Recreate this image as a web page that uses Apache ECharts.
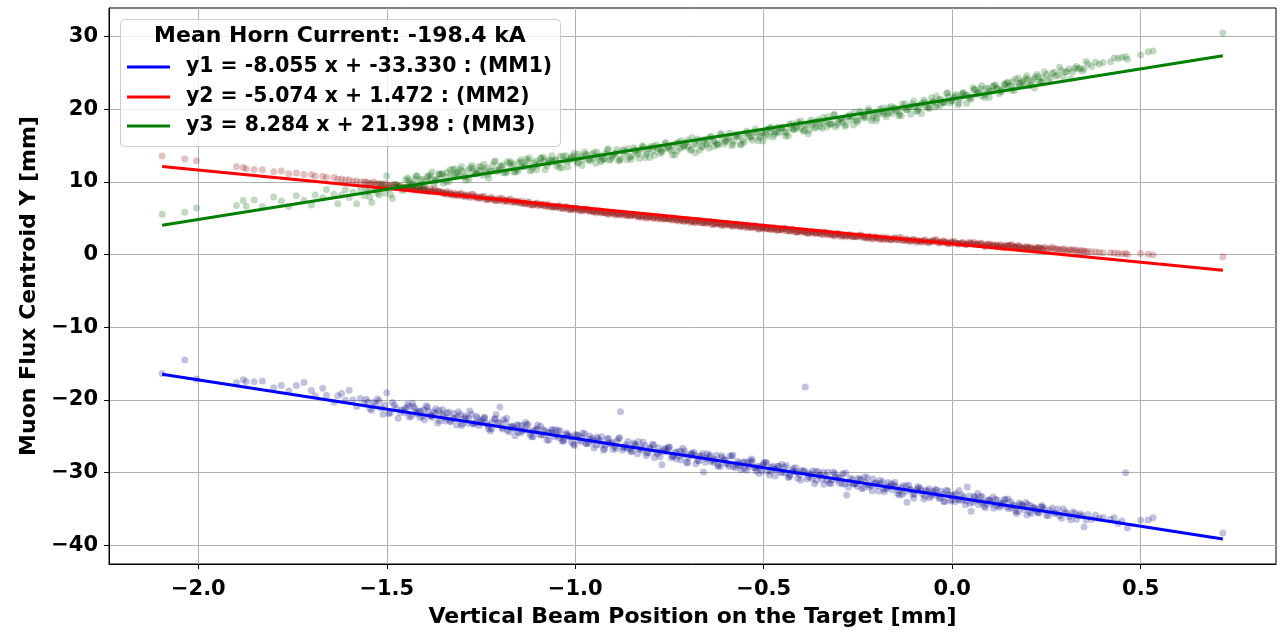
<!DOCTYPE html>
<html>
<head>
<meta charset="utf-8">
<script src="https://cdn.jsdelivr.net/npm/echarts@6/dist/echarts.min.js"></script>
<style>
  html, body { margin: 0; padding: 0; background: #ffffff; }
  #chart { width: 1288px; height: 633px; }
</style>
</head>
<body>
<div id="chart"></div>
<script>
// Vertical beam position on target (mm), shared by all three monitors
const beamX = [
  -2.096, -2.036, -2.005, -1.899, -1.881, -1.873, -1.852, -1.83, -1.80, -1.78,
  -1.76, -1.74, -1.72, -1.70, -1.69, -1.67, -1.66, -1.64, -1.63, -1.62,
  -1.61, -1.60, -1.59, -1.58, -1.57, -1.56, -1.55, -1.54, -1.53, -1.52,
  -1.51, -1.50, -1.49, -1.48, -1.47, -1.46, -1.45, -1.44, -1.43, -1.42,
  -1.41, -1.40, -1.39, -1.38, -1.37, -1.36, -1.35, -1.34, -1.33, -1.32,
  -1.31, -1.30, -1.29, -1.28, -1.27, -1.26, -1.25, -1.24, -1.23, -1.22,
  -1.21, -1.20, -1.19, -1.18, -1.17, -1.16, -1.15, -1.14, -1.13, -1.12,
  -1.11, -1.10, -1.09, -1.08, -1.07, -1.06, -1.05, -1.04, -1.03, -1.02,
  -1.01, -1.00, -0.99, -0.98, -0.97, -0.96, -0.95, -0.94, -0.93, -0.92,
  -0.91, -0.90, -0.89, -0.88, -0.87, -0.86, -0.85, -0.84, -0.83, -0.82,
  -0.81, -0.80, -0.79, -0.78, -0.77, -0.76, -0.75, -0.74, -0.73, -0.72,
  -0.71, -0.70, -0.69, -0.68, -0.67, -0.66, -0.65, -0.64, -0.63, -0.62,
  -0.61, -0.60, -0.59, -0.58, -0.57, -0.56, -0.55, -0.54, -0.53, -0.52,
  -0.51, -0.50, -0.49, -0.48, -0.47, -0.46, -0.45, -0.44, -0.43, -0.42,
  -0.41, -0.40, -0.39, -0.38, -0.37, -0.36, -0.35, -0.34, -0.33, -0.32,
  -0.31, -0.30, -0.29, -0.28, -0.27, -0.26, -0.25, -0.24, -0.23, -0.22,
  -0.21, -0.20, -0.19, -0.18, -0.17, -0.16, -0.15, -0.14, -0.13, -0.12,
  -0.11, -0.10, -0.09, -0.08, -0.07, -0.06, -0.05, -0.04, -0.03, -0.02,
  -0.01, 0.00, 0.01, 0.02, 0.03, 0.04, 0.05, 0.06, 0.07, 0.08,
  0.09, 0.10, 0.11, 0.12, 0.13, 0.14, 0.15, 0.16, 0.17, 0.18,
  0.19, 0.20, 0.21, 0.22, 0.23, 0.24, 0.25, 0.26, 0.27, 0.28,
  0.29, 0.30, 0.31, 0.32, 0.33, 0.34, 0.35, 0.36, 0.37, 0.38,
  0.39, 0.40, 0.42, 0.43, 0.44, 0.45, 0.46, 0.465, 0.50, 0.52,
  0.533, 0.718,
  // second block of pulses through the dense part of the scan
  -1.555, -1.545, -1.535, -1.525, -1.515, -1.505, -1.495, -1.485, -1.475, -1.465,
  -1.455, -1.445, -1.435, -1.425, -1.415, -1.405, -1.395, -1.385, -1.375, -1.365,
  -1.355, -1.345, -1.335, -1.325, -1.315, -1.305, -1.295, -1.285, -1.275, -1.265,
  -1.255, -1.245, -1.235, -1.225, -1.215, -1.205, -1.195, -1.185, -1.175, -1.165,
  -1.155, -1.145, -1.135, -1.125, -1.115, -1.105, -1.095, -1.085, -1.075, -1.065,
  -1.055, -1.045, -1.035, -1.025, -1.015, -1.005, -0.995, -0.985, -0.975, -0.965,
  -0.955, -0.945, -0.935, -0.925, -0.915, -0.905, -0.895, -0.885, -0.875, -0.865,
  -0.855, -0.845, -0.835, -0.825, -0.815, -0.805, -0.795, -0.785, -0.775, -0.765,
  -0.755, -0.745, -0.735, -0.725, -0.715, -0.705, -0.695, -0.685, -0.675, -0.665,
  -0.655, -0.645, -0.635, -0.625, -0.615, -0.605, -0.595, -0.585, -0.575, -0.565,
  -0.555, -0.545, -0.535, -0.525, -0.515, -0.505, -0.495, -0.485, -0.475, -0.465,
  -0.455, -0.445, -0.435, -0.425, -0.415, -0.405, -0.395, -0.385, -0.375, -0.365,
  -0.355, -0.345, -0.335, -0.325, -0.315, -0.305, -0.295, -0.285, -0.275, -0.265,
  -0.255, -0.245, -0.235, -0.225, -0.215, -0.205, -0.195, -0.185, -0.175, -0.165,
  -0.155, -0.145, -0.135, -0.125, -0.115, -0.105, -0.095, -0.085, -0.075, -0.065,
  -0.055, -0.045, -0.035, -0.025, -0.015, -0.005, 0.005, 0.015, 0.025, 0.035,
  0.045, 0.055, 0.065, 0.075, 0.085, 0.095, 0.105, 0.115, 0.125, 0.135,
  0.145, 0.155, 0.165, 0.175, 0.185, 0.195, 0.205, 0.215, 0.225, 0.235,
  0.245, 0.255, 0.265, 0.275, 0.285, 0.295, 0.305, 0.315, 0.325, 0.335,
  0.345, 0.355,
  // third block of pulses
  -1.452, -1.442, -1.432, -1.422, -1.412, -1.402, -1.392, -1.382, -1.372, -1.362,
  -1.352, -1.342, -1.332, -1.322, -1.312, -1.302, -1.292, -1.282, -1.272, -1.262,
  -1.252, -1.242, -1.232, -1.222, -1.212, -1.202, -1.192, -1.182, -1.172, -1.162,
  -1.152, -1.142, -1.132, -1.122, -1.112, -1.102, -1.092, -1.082, -1.072, -1.062,
  -1.052, -1.042, -1.032, -1.022, -1.012, -1.002, -0.992, -0.982, -0.972, -0.962,
  -0.952, -0.942, -0.932, -0.922, -0.912, -0.902, -0.892, -0.882, -0.872, -0.862,
  -0.852, -0.842, -0.832, -0.822, -0.812, -0.802, -0.792, -0.782, -0.772, -0.762,
  -0.752, -0.742, -0.732, -0.722, -0.712, -0.702, -0.692, -0.682, -0.672, -0.662,
  -0.652, -0.642, -0.632, -0.622, -0.612, -0.602, -0.592, -0.582, -0.572, -0.562,
  -0.552, -0.542, -0.532, -0.522, -0.512, -0.502, -0.492, -0.482, -0.472, -0.462,
  -0.452, -0.442, -0.432, -0.422, -0.412, -0.402, -0.392, -0.382, -0.372, -0.362,
  -0.352, -0.342, -0.332, -0.322, -0.312, -0.302, -0.292, -0.282, -0.272, -0.262,
  -0.252, -0.242, -0.232, -0.222, -0.212, -0.202, -0.192, -0.182, -0.172, -0.162,
  -0.152, -0.142, -0.132, -0.122, -0.112, -0.102, -0.092, -0.082, -0.072, -0.062,
  -0.052, -0.042, -0.032, -0.022, -0.012, -0.002, 0.008, 0.018, 0.028, 0.038,
  0.048, 0.058, 0.068, 0.078, 0.088, 0.098, 0.108, 0.118, 0.128, 0.138,
  0.148, 0.158, 0.168, 0.178, 0.188, 0.198, 0.208, 0.218, 0.228, 0.238
];

// Muon flux centroid Y (mm) at monitor MM1
const mm1Y = [
  -16.37, -14.5, -17.1, -17.6, -17.2, -17.5, -17.5, -17.4, -18.3, -18.0,
  -18.75, -18.0, -17.6, -18.7, -19.4, -18.4, -19.35, -20.3, -19.4, -19.1,
  -20.05, -18.65, -20.0, -20.9, -19.8, -20.55, -20.25, -21.4, -20.6, -20.1,
  -21.95, -19.0, -21.75, -20.7, -22.5, -21.35, -21.15, -22.35, -20.9, -21.9,
  -21.55, -22.75, -21.55, -22.4, -21.2, -22.85, -22.15, -21.75, -22.9, -22.5,
  -21.6, -23.25, -22.45, -21.5, -23.3, -22.5, -23.15, -22.45, -24.0, -23.1,
  -22.0, -20.95, -22.7, -24.2, -23.6, -24.9, -23.45, -24.25, -23.45, -24.8,
  -24.2, -23.45, -24.85, -24.25, -25.5, -24.2, -24.85, -24.25, -25.45, -24.8,
  -25.8, -24.75, -25.55, -24.55, -26.0, -25.4, -26.6, -25.35, -25.05, -26.2,
  -25.9, -26.8, -25.65, -21.6, -26.5, -25.7, -27.1, -26.25, -26.75, -25.8,
  -27.3, -26.7, -27.95, -26.55, -28.9, -27.1, -26.5, -27.75, -27.15, -28.25,
  -27.0, -27.9, -27.35, -28.75, -27.75, -29.9, -27.4, -28.45, -28.15, -28.95,
  -27.9, -28.7, -27.7, -29.15, -28.45, -29.6, -28.5, -29.1, -28.45, -29.75,
  -29.2, -28.6, -29.8, -29.25, -30.45, -29.1, -29.9, -29.0, -30.35, -29.85,
  -30.75, -29.7, -18.2, -30.55, -29.75, -31.05, -30.3, -31.6, -29.95, -30.95,
  -30.55, -31.4, -30.1, -33.05, -30.75, -31.55, -30.8, -32.2, -31.4, -31.95,
  -30.85, -31.8, -31.5, -32.6, -31.35, -32.35, -31.9, -33.1, -31.8, -34.05,
  -32.35, -32.9, -31.9, -32.9, -32.45, -33.45, -32.55, -33.1, -32.5, -33.95,
  -33.05, -33.75, -32.9, -33.8, -33.35, -31.95, -35.3, -33.4, -34.4, -33.35,
  -34.25, -33.85, -34.9, -33.8, -34.5, -33.65, -34.95, -34.4, -35.6, -34.4,
  -35.05, -34.35, -35.6, -35.0, -35.5, -34.75, -35.85, -35.2, -35.6, -35.0,
  -36.25, -35.45, -36.05, -35.4, -36.4, -35.65, -37.45, -35.75, -36.4, -35.8,
  -36.25, -36.15, -36.4, -36.2, -36.95, -36.65, -30.0, -37.6, -36.55, -36.5,
  -36.2, -38.3,
  -19.9, -21.2, -20.35, -19.85, -21.1, -20.7, -21.9, -20.35, -21.15, -21.7,
  -21.4, -20.6, -22.25, -21.15, -21.55, -22.2, -20.8, -22.15, -21.65, -23.15,
  -21.9, -22.9, -21.7, -22.55, -23.45, -22.0, -22.6, -23.2, -21.95, -23.15,
  -23.5, -22.7, -23.2, -24.25, -22.65, -23.2, -23.8, -23.1, -24.35, -23.65,
  -23.45, -24.5, -24.1, -23.35, -25.05, -24.15, -24.7, -24.1, -25.55, -24.55,
  -25.05, -24.2, -25.6, -24.75, -25.05, -26.1, -24.8, -25.7, -24.65, -25.95,
  -25.25, -26.2, -25.6, -26.9, -25.35, -26.05, -26.4, -25.3, -26.9, -26.15,
  -26.75, -25.9, -27.4, -26.6, -26.25, -27.25, -26.1, -27.2, -27.8, -26.85,
  -26.75, -27.95, -27.2, -27.7, -26.65, -28.55, -27.6, -27.2, -28.3, -27.65,
  -28.55, -27.75, -28.3, -27.6, -29.15, -28.25, -28.85, -27.7, -29.3, -28.65,
  -28.55, -29.65, -28.4, -29.3, -29.1, -29.75, -28.55, -30.3, -29.1, -29.6,
  -30.05, -29.25, -30.65, -29.7, -29.3, -30.25, -29.75, -30.85, -30.2, -31.5,
  -29.85, -30.85, -30.45, -31.4, -29.9, -30.95, -30.55, -31.55, -32.0, -30.9,
  -31.5, -30.85, -32.05, -30.7, -31.7, -31.4, -32.55, -31.25, -32.2, -31.9,
  -31.7, -32.85, -32.05, -32.6, -31.7, -33.0, -32.45, -32.15, -33.6, -32.5,
  -33.2, -32.35, -33.55, -32.95, -32.4, -33.9, -33.05, -33.65, -33.05, -34.4,
  -33.2, -34.05, -33.75, -33.25, -34.6, -33.8, -34.25, -33.65, -34.75, -34.2,
  -34.7, -34.0, -34.55, -35.35, -34.4, -34.1, -35.4, -34.85, -35.25, -34.7,
  -35.0, -35.9, -34.85, -35.55, -35.9, -35.0, -35.6, -36.45, -35.55, -35.9,
  -35.9, -36.5,
  -21.8, -20.9, -20.45, -21.65, -22.45, -21.3, -21.0, -22.15, -21.85, -21.45,
  -21.3, -22.5, -23.0, -21.85, -22.35, -23.5, -22.2, -22.5, -23.25, -22.25,
  -22.9, -22.4, -23.5, -23.95, -22.55, -23.1, -24.0, -22.5, -23.75, -23.95,
  -24.45, -23.5, -23.1, -24.25, -25.05, -23.95, -23.6, -24.8, -24.45, -24.05,
  -24.05, -25.2, -25.7, -24.55, -25.05, -26.25, -24.9, -25.2, -25.95, -24.95,
  -25.65, -25.1, -26.2, -26.7, -25.25, -25.85, -26.7, -25.2, -26.5, -26.65,
  -27.05, -26.1, -25.7, -26.9, -27.65, -26.55, -26.2, -27.4, -27.1, -26.65,
  -26.45, -27.65, -28.1, -27.0, -27.45, -28.65, -27.35, -27.6, -28.4, -27.35,
  -28.05, -27.55, -28.6, -29.1, -27.65, -28.25, -29.15, -27.6, -28.9, -29.05,
  -29.45, -28.55, -28.1, -29.3, -30.1, -28.95, -28.65, -29.8, -29.5, -29.1,
  -28.85, -30.05, -30.55, -29.4, -29.9, -31.05, -29.75, -30.05, -30.8, -29.8,
  -30.45, -29.95, -31.05, -31.5, -30.1, -30.65, -31.55, -30.05, -31.3, -31.5,
  -31.9, -30.95, -30.55, -31.7, -32.5, -31.4, -31.05, -32.25, -31.9, -31.5,
  -31.3, -32.45, -32.95, -31.8, -32.3, -33.5, -32.15, -32.45, -33.2, -32.2,
  -32.9, -32.35, -33.45, -33.95, -32.5, -33.1, -34.0, -32.45, -33.75, -33.9,
  -34.2, -33.25, -32.85, -34.05, -34.8, -33.7, -33.35, -34.55, -34.25, -33.8,
  -33.6, -34.8, -35.25, -34.15, -34.6, -35.8, -34.5, -34.75, -35.55, -34.5
];

// Muon flux centroid Y (mm) at monitor MM2
const mm2Y = [
  13.56, 13.15, 12.88, 12.06, 11.96, 11.8, 11.7, 11.66, 11.4, 11.5,
  11.1, 11.2, 11.0, 11.0, 10.75, 10.75, 10.6, 10.6, 10.35, 10.4,
  10.25, 10.3, 10.05, 10.1, 9.95, 10.0, 9.85, 9.8, 9.65, 9.7,
  9.55, 9.6, 9.45, 9.3, 9.35, 9.2, 9.15, 9.0, 9.05, 8.9,
  8.85, 8.8, 8.65, 8.7, 8.55, 8.55, 8.4, 8.3, 8.3, 8.15,
  8.2, 8.05, 8.0, 7.85, 7.9, 7.75, 7.8, 7.65, 7.6, 7.55,
  7.4, 7.45, 7.3, 7.35, 7.2, 7.15, 7.2, 7.05, 7.0, 6.85,
  6.9, 6.75, 6.8, 6.65, 6.6, 6.55, 6.5, 6.35, 6.4, 6.25,
  6.3, 6.15, 6.1, 6.15, 6.0, 5.95, 5.9, 5.85, 5.8, 5.75,
  5.7, 5.65, 5.6, 5.55, 5.4, 5.45, 5.4, 5.25, 5.3, 5.25,
  5.1, 5.15, 5.1, 5.05, 4.9, 4.95, 4.9, 4.75, 4.8, 4.75,
  4.65, 4.6, 4.55, 4.4, 4.45, 4.4, 4.35, 4.2, 4.25, 4.2,
  4.15, 4.1, 4.05, 4.0, 3.95, 3.9, 3.75, 3.8, 3.75, 3.7,
  3.65, 3.6, 3.55, 3.5, 3.45, 3.4, 3.35, 3.3, 3.25, 3.2,
  3.15, 3.1, 3.05, 3.0, 2.95, 2.9, 2.85, 2.8, 2.85, 2.7,
  2.75, 2.7, 2.65, 2.6, 2.55, 2.5, 2.45, 2.4, 2.35, 2.3,
  2.25, 2.3, 2.15, 2.2, 2.15, 2.1, 2.05, 2.0, 1.95, 2.0,
  1.85, 1.9, 1.85, 1.8, 1.75, 1.8, 1.75, 1.7, 1.7, 1.65,
  1.6, 1.65, 1.6, 1.55, 1.5, 1.45, 1.5, 1.45, 1.4, 1.35,
  1.4, 1.35, 1.3, 1.25, 1.2, 1.25, 1.2, 1.15, 1.1, 1.05,
  1.0, 0.95, 0.9, 0.95, 0.9, 0.85, 0.8, 0.85, 0.8, 0.75,
  0.7, 0.65, 0.7, 0.65, 0.6, 0.55, 0.5, 0.45, 0.4, 0.35,
  0.3, 0.25, 0.25, 0.2, 0.15, 0.1, 0.15, 0.0, 0.15, 0.05,
  -0.05, -0.3,
  9.96, 9.66, 9.96, 9.71, 9.56, 9.76, 9.36, 9.56, 9.55, 9.35,
  9.1, 9.3, 9.1, 8.85, 9.1, 9.0, 8.75, 9.05, 8.8, 8.7,
  8.6, 8.35, 8.6, 8.2, 8.3, 8.35, 8.0, 8.2, 8.25, 7.95,
  7.75, 7.95, 7.55, 7.8, 7.65, 7.45, 7.75, 7.45, 7.55, 7.3,
  7.35, 7.05, 7.1, 7.25, 6.8, 7.0, 6.8, 6.95, 6.75, 6.55,
  6.55, 6.65, 6.35, 6.6, 6.2, 6.3, 6.35, 6.0, 6.2, 6.15,
  6.0, 5.7, 6.0, 5.75, 5.6, 5.8, 5.4, 5.6, 5.6, 5.4,
  5.3, 5.5, 5.3, 5.05, 5.3, 5.2, 4.95, 5.25, 5.0, 4.9,
  5.0, 4.75, 5.0, 4.6, 4.7, 4.75, 4.4, 4.6, 4.65, 4.35,
  4.3, 4.5, 4.1, 4.35, 4.2, 4.0, 4.3, 4.0, 4.1, 3.85,
  4.05, 3.75, 3.8, 3.95, 3.5, 3.7, 3.5, 3.65, 3.5, 3.3,
  3.45, 3.55, 3.25, 3.5, 3.1, 3.2, 3.25, 2.9, 3.05, 3.05,
  3.05, 2.75, 3.05, 2.8, 2.65, 2.85, 2.45, 2.65, 2.65, 2.45,
  2.45, 2.65, 2.45, 2.2, 2.45, 2.35, 2.1, 2.4, 2.15, 2.05,
  2.3, 2.05, 2.3, 1.9, 2.0, 2.05, 1.7, 1.9, 1.95, 1.65,
  1.8, 2.0, 1.6, 1.85, 1.7, 1.5, 1.8, 1.5, 1.6, 1.35,
  1.7, 1.4, 1.45, 1.6, 1.15, 1.35, 1.15, 1.3, 1.15, 0.95,
  1.2, 1.3, 1.0, 1.25, 0.85, 0.95, 1.0, 0.65, 0.85, 0.85,
  1.0, 0.7, 1.0, 0.75, 0.6, 0.8, 0.4, 0.6, 0.55, 0.35,
  0.5, 0.35,
  9.25, 9.35, 9.0, 9.15, 8.8, 9.1, 8.9, 8.7, 9.0, 8.7,
  8.55, 8.65, 8.3, 8.45, 8.1, 8.4, 8.2, 8.0, 8.3, 8.0,
  7.9, 8.0, 7.65, 7.8, 7.45, 7.75, 7.55, 7.35, 7.65, 7.35,
  7.25, 7.35, 7.0, 7.15, 6.8, 7.1, 6.9, 6.7, 6.95, 6.65,
  6.6, 6.7, 6.35, 6.5, 6.15, 6.45, 6.25, 6.05, 6.3, 6.0,
  5.95, 6.05, 5.7, 5.85, 5.5, 5.8, 5.6, 5.4, 5.7, 5.4,
  5.45, 5.55, 5.2, 5.35, 5.0, 5.3, 5.1, 4.9, 5.2, 4.9,
  4.95, 5.05, 4.7, 4.85, 4.5, 4.8, 4.6, 4.4, 4.7, 4.4,
  4.45, 4.55, 4.2, 4.35, 4.0, 4.3, 4.1, 3.9, 4.2, 3.9,
  3.95, 4.05, 3.7, 3.85, 3.5, 3.8, 3.6, 3.4, 3.7, 3.4,
  3.5, 3.6, 3.25, 3.4, 3.05, 3.35, 3.15, 2.95, 3.2, 2.9,
  3.0, 3.1, 2.75, 2.9, 2.55, 2.85, 2.65, 2.45, 2.75, 2.45,
  2.6, 2.7, 2.35, 2.5, 2.15, 2.45, 2.25, 2.05, 2.35, 2.05,
  2.25, 2.35, 2.0, 2.15, 1.8, 2.1, 1.9, 1.7, 2.0, 1.7,
  1.95, 2.05, 1.7, 1.85, 1.5, 1.8, 1.6, 1.4, 1.7, 1.4,
  1.6, 1.7, 1.35, 1.5, 1.15, 1.45, 1.25, 1.05, 1.35, 1.05,
  1.25, 1.35, 1.0, 1.15, 0.8, 1.1, 0.9, 0.7, 1.0, 0.7
];

// Muon flux centroid Y (mm) at monitor MM3
const mm3Y = [
  5.55, 5.83, 6.4, 6.74, 7.42, 6.64, 7.5, 6.6, 7.9, 7.35,
  6.6, 8.1, 7.45, 6.8, 8.2, 7.8, 8.95, 8.3, 7.0, 8.2,
  8.95, 7.85, 8.6, 7.0, 9.0, 8.1, 8.65, 7.15, 8.9, 8.2,
  9.2, 10.8, 8.25, 9.65, 9.3, 8.8, 10.3, 9.85, 9.35, 10.85,
  10.3, 9.5, 10.7, 11.35, 10.25, 11.0, 9.8, 11.3, 10.9, 11.75,
  10.85, 11.45, 10.2, 11.9, 11.5, 11.15, 12.05, 11.55, 10.5, 12.2,
  11.55, 12.15, 11.25, 12.8, 12.2, 11.4, 12.65, 12.05, 13.15, 11.5,
  12.6, 12.3, 13.25, 11.65, 13.05, 12.8, 12.2, 13.5, 12.95, 12.05,
  13.45, 13.1, 13.8, 13.0, 13.65, 12.85, 14.05, 13.4, 13.0, 13.9,
  12.95, 13.65, 14.45, 13.1, 13.8, 14.55, 13.55, 14.25, 13.2, 14.8,
  14.1, 14.85, 13.65, 14.55, 14.1, 15.4, 14.5, 15.05, 14.25, 15.65,
  15.0, 14.8, 16.1, 15.15, 14.35, 15.65, 15.1, 16.2, 15.6, 15.05,
  15.95, 15.65, 16.7, 15.6, 16.2, 15.15, 16.65, 16.25, 15.7, 16.8,
  16.3, 16.75, 16.25, 17.5, 16.9, 16.7, 17.45, 16.75, 17.45, 17.2,
  18.2, 17.3, 17.85, 17.05, 17.85, 18.3, 17.6, 18.2, 18.95, 18.05,
  17.55, 18.6, 18.2, 18.9, 18.55, 19.55, 18.45, 19.1, 18.8, 19.7,
  19.15, 18.75, 19.6, 19.3, 20.2, 19.35, 19.85, 19.35, 20.2, 19.9,
  19.3, 20.35, 20.05, 20.85, 20.4, 20.1, 21.0, 20.55, 21.35, 20.95,
  21.7, 21.2, 22.0, 21.45, 22.25, 21.95, 21.5, 22.7, 22.3, 21.85,
  22.85, 22.45, 23.2, 22.8, 22.4, 23.35, 23.15, 23.8, 23.1, 23.6,
  23.2, 24.05, 23.75, 24.4, 23.8, 24.3, 24.75, 24.25, 25.05, 24.7,
  25.3, 25.1, 25.55, 25.15, 25.85, 25.6, 25.5, 26.2, 25.85, 26.45,
  26.15, 26.4, 26.5, 27.05, 26.95, 27.1, 27.2, 26.85, 27.45, 27.9,
  28.0, 30.45,
  9.1, 7.9, 8.9, 8.45, 9.75, 8.45, 9.1, 7.7, 9.6, 9.45,
  9.25, 10.55, 9.6, 10.4, 9.2, 10.35, 10.05, 10.95, 9.7, 10.4,
  11.05, 10.65, 10.05, 11.7, 11.1, 11.7, 10.65, 11.55, 12.25, 11.1,
  12.1, 10.9, 11.85, 11.45, 12.75, 11.4, 12.1, 11.2, 12.55, 12.45,
  11.75, 13.0, 12.1, 12.9, 11.65, 12.85, 12.55, 13.4, 12.2, 12.9,
  12.95, 12.55, 11.95, 13.6, 13.0, 13.55, 12.55, 13.45, 14.1, 13.0,
  13.8, 12.55, 13.55, 13.15, 14.4, 13.1, 13.8, 12.85, 14.25, 14.15,
  13.4, 14.7, 13.8, 14.55, 13.35, 14.55, 14.2, 15.1, 13.9, 14.55,
  14.75, 14.3, 13.7, 15.4, 14.75, 15.35, 14.35, 15.2, 15.9, 14.8,
  15.85, 14.65, 15.65, 15.2, 16.5, 15.2, 15.85, 14.95, 16.35, 16.2,
  15.7, 17.0, 16.05, 16.85, 15.65, 16.8, 16.5, 17.4, 16.15, 16.85,
  17.35, 16.9, 16.3, 18.0, 17.35, 17.95, 16.95, 17.8, 18.5, 17.4,
  18.55, 17.35, 18.35, 17.9, 19.2, 17.85, 18.55, 17.65, 19.0, 18.9,
  18.5, 19.75, 18.85, 19.65, 18.4, 19.6, 19.3, 20.15, 18.95, 19.65,
  20.1, 19.7, 19.1, 20.75, 20.15, 20.7, 19.7, 20.6, 21.25, 20.15,
  21.55, 20.3, 21.3, 20.9, 22.15, 20.85, 21.55, 20.6, 22.0, 21.9,
  21.65, 22.95, 22.05, 22.8, 21.6, 22.8, 22.45, 23.35, 22.15, 22.8,
  23.6, 23.2, 22.55, 24.25, 23.65, 24.2, 23.2, 24.1, 24.75, 23.65,
  25.15, 23.9, 24.9, 24.5, 25.75, 24.45, 25.15, 24.2, 25.6, 25.5,
  25.25, 26.55,
  8.95, 10.25, 9.8, 10.8, 9.6, 9.15, 10.75, 10.45, 10.1, 11.1,
  11.15, 10.05, 11.65, 10.9, 11.3, 12.1, 10.75, 10.35, 11.95, 11.2,
  11.6, 12.4, 11.05, 11.45, 12.85, 11.7, 12.3, 11.4, 12.75, 11.35,
  11.45, 12.7, 12.3, 13.3, 12.05, 11.65, 13.25, 12.9, 12.6, 13.6,
  13.05, 11.95, 13.55, 12.8, 13.2, 13.95, 12.65, 12.25, 13.8, 13.1,
  13.3, 14.05, 12.75, 13.15, 14.5, 13.4, 14.0, 13.05, 14.45, 13.05,
  13.1, 14.4, 14.0, 14.95, 13.75, 13.35, 14.9, 14.6, 14.3, 15.25,
  14.85, 13.7, 15.3, 14.6, 14.95, 15.75, 14.45, 14.0, 15.6, 14.9,
  15.35, 16.15, 14.85, 15.2, 16.6, 15.5, 16.05, 15.15, 16.55, 15.1,
  15.4, 16.7, 16.25, 17.25, 16.05, 15.6, 17.2, 16.9, 16.55, 17.55,
  17.45, 16.3, 17.9, 17.2, 17.55, 18.35, 17.05, 16.6, 18.2, 17.5,
  18.05, 18.85, 17.55, 17.9, 19.3, 18.15, 18.75, 17.85, 19.2, 17.8,
  18.2, 19.45, 19.05, 20.05, 18.8, 18.4, 20.0, 19.65, 19.35, 20.35,
  20.2, 19.1, 20.7, 19.95, 20.35, 21.1, 19.8, 19.4, 20.95, 20.25,
  21.05, 21.8, 20.5, 20.9, 22.25, 21.15, 21.75, 20.8, 22.2, 20.8,
  21.35, 22.65, 22.25, 23.2, 22.0, 21.6, 23.15, 22.85, 22.55, 23.5,
  23.7, 22.6, 24.15, 23.45, 23.85, 24.6, 23.3, 22.9, 24.45, 23.75
];

// Linear fit coefficients per monitor and the x span the fits are drawn over
const monitorNames = ['MM1', 'MM2', 'MM3'];
const fitSlope = [-8.055, -5.074, 8.284];
const fitIntercept = [-33.330, 1.472, 21.398];
const fitRange = [-2.096, 0.718];

// Axis extents and tick values
const xLimits = [-2.237, 0.859];
const yLimits = [-42.55, 33.9];
const xTicks = [-2.0, -1.5, -1.0, -0.5, 0.0, 0.5];
const yTicks = [-40, -30, -20, -10, 0, 10, 20, 30];

const legendTitle = 'Mean Horn Current: -198.4 kA';
const xTitle = 'Vertical Beam Position on the Target [mm]';
const yTitle = 'Muon Flux Centroid Y [mm]';

const FONT = '"DejaVu Sans", "Liberation Sans", sans-serif';
const pointColors = ['rgba(0,0,128,0.3)', 'rgba(139,0,0,0.3)', 'rgba(0,100,0,0.3)'];
const fitColors = ['#0000ff', '#ff0000', '#008000'];

const monitorY = [mm1Y, mm2Y, mm3Y];

function minusSign(s) { return s.replace('-', '\u2212'); }

const scatterSeries = monitorY.map((ys, i) => ({
  type: 'scatter',
  name: monitorNames[i] + ' data',
  data: beamX.map((x, k) => [x, ys[k]]),
  symbol: 'circle',
  symbolSize: 7,
  itemStyle: { color: pointColors[i], borderWidth: 0 },
  z: 2,
  silent: true
}));

const fitSeries = fitSlope.map((a, i) => ({
  type: 'line',
  name: monitorNames[i] + ' fit',
  data: fitRange.map(x => [x, a * x + fitIntercept[i]]),
  showSymbol: false,
  symbol: 'none',
  lineStyle: { color: fitColors[i], width: 3 },
  z: 5,
  silent: true
}));

const legendLabels = fitSlope.map((a, i) =>
  'y' + (i + 1) + ' = ' + a.toFixed(3) + ' x + ' + fitIntercept[i].toFixed(3) + ' : (' + monitorNames[i] + ')');

const legendRows = [67, 97, 126];
const legendGraphics = [
  {
    type: 'rect', z: 100,
    shape: { x: 120.5, y: 19.5, width: 440, height: 127, r: 4 },
    style: { fill: 'rgba(255,255,255,0.8)', stroke: '#cccccc', lineWidth: 1 }
  },
  {
    type: 'text', z: 101, x: 340, y: 36,
    style: { text: legendTitle, font: 'bold 22px ' + FONT, fill: '#000',
      textAlign: 'center', textVerticalAlign: 'middle', align: 'center', verticalAlign: 'middle' }
  }
];
legendLabels.forEach((label, i) => {
  legendGraphics.push({
    type: 'line', z: 101,
    shape: { x1: 127, y1: legendRows[i], x2: 170, y2: legendRows[i] },
    style: { stroke: fitColors[i], lineWidth: 3 }
  });
  legendGraphics.push({
    type: 'text', z: 101, x: 186, y: legendRows[i],
    style: { text: label, font: 'bold 20.4px ' + FONT, fill: '#000',
      textAlign: 'left', textVerticalAlign: 'middle', align: 'left', verticalAlign: 'middle' }
  });
});

const tickStyle = { fontFamily: FONT, fontWeight: 'bold', fontSize: 21, color: '#000' };
const titleStyle = { fontFamily: FONT, fontWeight: 'bold', fontSize: 22, color: '#000' };

const chart = echarts.init(document.getElementById('chart'), null, { renderer: 'canvas' });
chart.setOption({
  animation: false,
  backgroundColor: '#ffffff',
  grid: { left: 109, right: 12, top: 8, bottom: 62, show: true, borderColor: '#000', borderWidth: 1, containLabel: false },
  xAxis: {
    type: 'value',
    min: xLimits[0], max: xLimits[1],
    splitNumber: 6,
    axisLine: { show: true, onZero: false, lineStyle: { color: '#000', width: 1 } },
    axisTick: { show: true, customValues: xTicks, length: 5, lineStyle: { color: '#000', width: 1 } },
    axisLabel: Object.assign({ customValues: xTicks, margin: 15,
      formatter: v => minusSign(Number(v).toFixed(1)) }, tickStyle),
    splitLine: { show: true, lineStyle: { color: '#b0b0b0', width: 1 } },
    name: xTitle, nameLocation: 'middle', nameGap: 42,
    nameTextStyle: titleStyle
  },
  yAxis: {
    type: 'value',
    min: yLimits[0], max: yLimits[1],
    splitNumber: 8,
    axisLine: { show: true, onZero: false, lineStyle: { color: '#000', width: 1 } },
    axisTick: { show: true, customValues: yTicks, length: 5, lineStyle: { color: '#000', width: 1 } },
    axisLabel: Object.assign({ customValues: yTicks, margin: 11,
      formatter: v => minusSign(String(Math.round(v))) }, tickStyle),
    splitLine: { show: true, lineStyle: { color: '#b0b0b0', width: 1 } },
    name: yTitle, nameLocation: 'middle', nameGap: 62, nameRotate: 90,
    nameTextStyle: titleStyle
  },
  series: scatterSeries.concat(fitSeries),
  graphic: legendGraphics
});
</script>
</body>
</html>
